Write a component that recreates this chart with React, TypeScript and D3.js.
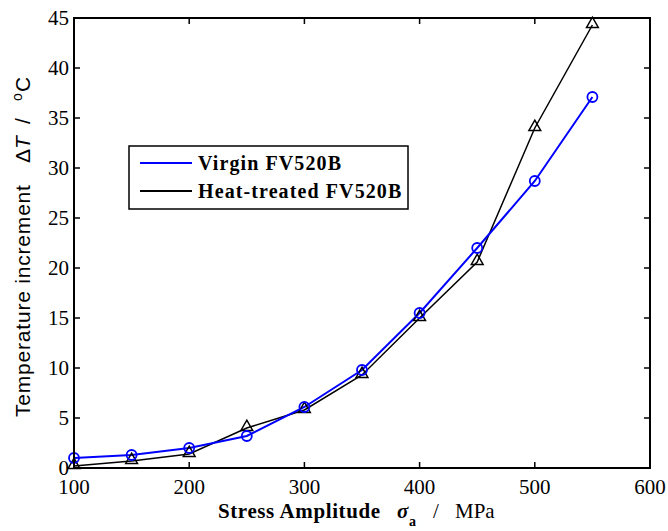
import React, { useEffect, useRef } from "react";
import * as d3 from "d3";

const stress = [100, 150, 200, 250, 300, 350, 400, 450, 500, 550];
const virgin = [1.0, 1.3, 2.0, 3.2, 6.1, 9.8, 15.5, 22.0, 28.7, 37.1];
const heatTreated = [0.2, 0.7, 1.4, 4.0, 5.8, 9.3, 15.0, 20.6, 34.0, 44.3];
const xTicks = [100, 200, 300, 400, 500, 600];
const yTicks = [0, 5, 10, 15, 20, 25, 30, 35, 40, 45];

export default function App() {
  const ref = useRef<SVGSVGElement>(null);

  useEffect(() => {
    const svg = d3.select(ref.current);
    svg.selectAll("*").remove();

    const left = 74, right = 650, top = 18, bottom = 468;
    const x = d3.scaleLinear().domain([100, 600]).range([left, right]);
    const y = d3.scaleLinear().domain([0, 45]).range([bottom, top]);
    const serif = "'Liberation Serif', 'Times New Roman', serif";

    // ticks (inward, mirrored)
    const g = svg.append("g");
    xTicks.forEach((t) => {
      g.append("line").attr("x1", x(t)).attr("x2", x(t)).attr("y1", bottom).attr("y2", bottom - 6).attr("stroke", "#000").attr("stroke-width", 1.5);
      g.append("line").attr("x1", x(t)).attr("x2", x(t)).attr("y1", top).attr("y2", top + 6).attr("stroke", "#000").attr("stroke-width", 1.5);
      g.append("text").attr("x", x(t)).attr("y", bottom + 26).attr("text-anchor", "middle")
        .attr("font-family", serif).attr("font-size", 21).text(t);
    });
    yTicks.forEach((t) => {
      g.append("line").attr("x1", left).attr("x2", left + 6).attr("y1", y(t)).attr("y2", y(t)).attr("stroke", "#000").attr("stroke-width", 1.5);
      g.append("line").attr("x1", right).attr("x2", right - 6).attr("y1", y(t)).attr("y2", y(t)).attr("stroke", "#000").attr("stroke-width", 1.5);
      g.append("text").attr("x", left - 5).attr("y", y(t) + 7).attr("text-anchor", "end")
        .attr("font-family", serif).attr("font-size", 21).text(t);
    });

    const line = d3.line<number>().x((_, i) => x(stress[i])).y((d) => y(d));

    svg.append("path").datum(heatTreated).attr("d", line).attr("fill", "none")
      .attr("stroke", "#000").attr("stroke-width", 1.5);
    svg.append("path").datum(virgin).attr("d", line).attr("fill", "none")
      .attr("stroke", "#0000ff").attr("stroke-width", 2);

    const tri = d3.symbol().type(d3.symbolTriangle).size(60);
    svg.selectAll(".tri").data(heatTreated).enter().append("path")
      .attr("d", tri).attr("transform", (d, i) => `translate(${x(stress[i])},${y(d) - 1})`)
      .attr("fill", "none").attr("stroke", "#000").attr("stroke-width", 1.5);
    svg.selectAll(".circ").data(virgin).enter().append("circle")
      .attr("cx", (d, i) => x(stress[i])).attr("cy", (d) => y(d)).attr("r", 5)
      .attr("fill", "none").attr("stroke", "#0000ff").attr("stroke-width", 1.8);

    // frame
    svg.append("rect").attr("x", left).attr("y", top).attr("width", right - left).attr("height", bottom - top)
      .attr("fill", "none").attr("stroke", "#000").attr("stroke-width", 2);

    // legend
    const lg = svg.append("g");
    lg.append("rect").attr("x", 129).attr("y", 146).attr("width", 279).attr("height", 63)
      .attr("fill", "#fff").attr("stroke", "#000").attr("stroke-width", 1.5);
    const items = [
      { label: "Virgin FV520B", color: "#0000ff", yy: 163 },
      { label: "Heat-treated FV520B", color: "#000", yy: 191 },
    ];
    items.forEach((it) => {
      lg.append("line").attr("x1", 140).attr("x2", 192).attr("y1", it.yy).attr("y2", it.yy)
        .attr("stroke", it.color).attr("stroke-width", 2);
      lg.append("text").attr("x", 198).attr("y", it.yy + 7).attr("font-family", serif)
        .attr("font-size", 20).attr("letter-spacing", 1.1).attr("font-weight", "bold").text(it.label);
    });

    // x label
    const xl = svg.append("text").attr("y", 518).attr("font-family", serif)
      .attr("font-size", 21).attr("font-weight", "bold");
    xl.append("tspan").attr("x", 218).attr("letter-spacing", 0.6).text("Stress Amplitude");
    xl.append("tspan").attr("x", 397).attr("font-style", "italic").text("σ");
    xl.append("tspan").attr("x", 409).attr("dy", 8).attr("font-size", 14).text("a");
    xl.append("tspan").attr("x", 433).attr("dy", -8).attr("font-weight", "normal").text("/");
    xl.append("tspan").attr("x", 455).attr("font-weight", "normal").text("MPa");

    // y label
    const yl = svg.append("text").attr("transform", "translate(30,0) rotate(-90)")
      .attr("font-family", "'Liberation Sans', Arial, sans-serif").attr("font-size", 21);
    yl.append("tspan").attr("x", -417).attr("letter-spacing", 0.8).text("Temperature increment");
    yl.append("tspan").attr("x", -163).text("Δ");
    yl.append("tspan").attr("font-style", "italic").text("T");
    yl.append("tspan").attr("x", -124).text("/");
    yl.append("tspan").attr("x", -101).attr("dy", -8).attr("font-size", 14).text("o");
    yl.append("tspan").attr("x", -92).attr("dy", 8).text("C");
  }, []);

  return (
    <svg ref={ref} width={668} height={531}
      style={{ position: "absolute", left: 0, top: 0, background: "#fff" }} />
  );
}
